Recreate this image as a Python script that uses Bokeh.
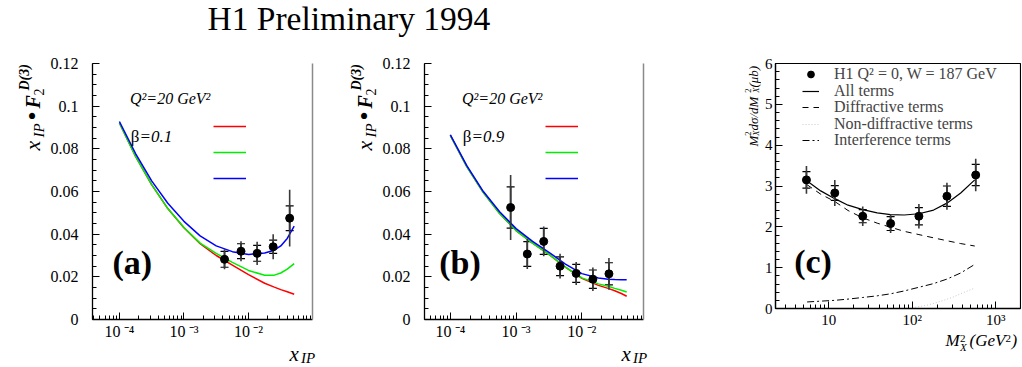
import math
from bokeh.plotting import figure
from bokeh.models import (Label, Legend, LegendItem, Whisker, TeeHead, LinearAxis, GridBox,
                          Range1d, CustomJSTickFormatter, LogTicker, SingleIntervalTicker,
                          ColumnDataSource)
from bokeh.core.properties import value
from bokeh.embed import file_html
from bokeh.resources import INLINE

SERIF = "Liberation Serif"

# ---------------- data: panel (a), beta = 0.1 ----------------
a_curve_x = [1.0e-4, 1.78e-4, 3.16e-4, 5.62e-4, 1.0e-3, 1.78e-3, 3.16e-3, 5.62e-3,
             1.0e-2, 1.78e-2, 2.51e-2, 3.16e-2, 3.98e-2, 5.1e-2]
a_red = [0.0921, 0.0765, 0.0632, 0.0520, 0.0430, 0.0355, 0.0300, 0.0255,
         0.0210, 0.0170, 0.0152, 0.0140, 0.0130, 0.0118]
a_green = [0.0921, 0.0765, 0.0632, 0.0520, 0.0431, 0.0358, 0.0310, 0.0268,
           0.0230, 0.0207, 0.0208, 0.0218, 0.0236, 0.0262]
a_blue = [0.0928, 0.0778, 0.0650, 0.0545, 0.0460, 0.0392, 0.0345, 0.0318,
          0.0305, 0.0312, 0.0325, 0.0345, 0.0380, 0.0438]
a_x = [0.00425, 0.00765, 0.0136, 0.0241, 0.0434]
a_y = [0.0282, 0.0320, 0.0310, 0.0341, 0.0475]
a_stat = [0.0037, 0.0035, 0.0037, 0.0031, 0.0058]
a_tot = [0.0047, 0.0047, 0.0054, 0.0059, 0.0133]

# ---------------- data: panel (b), beta = 0.9 ----------------
b_curve_x = [1.0e-4, 1.78e-4, 3.16e-4, 5.62e-4, 1.0e-3, 1.78e-3, 3.16e-3, 5.62e-3,
             1.0e-2, 1.78e-2, 2.51e-2, 3.16e-2, 3.98e-2, 4.8e-2]
b_red = [0.0863, 0.0717, 0.0596, 0.0497, 0.0417, 0.0358, 0.0305, 0.0245,
         0.0193, 0.0160, 0.0146, 0.0135, 0.0122, 0.0109]
b_green = [0.0863, 0.0717, 0.0596, 0.0497, 0.0417, 0.0358, 0.0305, 0.0246,
           0.0195, 0.0167, 0.0156, 0.0146, 0.0137, 0.0129]
b_blue = [0.0866, 0.0721, 0.0601, 0.0505, 0.0426, 0.0366, 0.0315, 0.0260,
          0.0215, 0.0195, 0.0189, 0.0187, 0.0186, 0.0186]
b_x = [8.26e-4, 1.48e-3, 2.63e-3, 4.66e-3, 8.2e-3, 1.47e-2, 2.58e-2]
b_y = [0.0525, 0.0307, 0.0366, 0.0250, 0.0216, 0.0189, 0.0214]
b_stat = [0.0097, 0.0058, 0.0061, 0.0044, 0.0042, 0.0043, 0.0052]
b_tot = [0.0152, 0.0070, 0.0070, 0.0058, 0.0054, 0.0055, 0.0074]

# ---------------- data: panel (c), photoproduction ----------------
c_x = [5.4, 11.8, 25.5, 55.0, 120.0, 260.0, 575.0]
c_y = [3.15, 2.83, 2.26, 2.08, 2.26, 2.75, 3.27]
c_stat = [0.20, 0.18, 0.16, 0.17, 0.21, 0.25, 0.26]
c_tot = [0.34, 0.32, 0.24, 0.23, 0.30, 0.33, 0.40]
c_curve_x = [5.5, 8.0, 11.8, 17.0, 25.5, 38.0, 55.0, 80.0, 120.0, 180.0, 260.0, 380.0, 560.0]
c_all = [3.12, 2.88, 2.69, 2.53, 2.42, 2.34, 2.30, 2.29, 2.32, 2.41, 2.58, 2.83, 3.15]
c_diff = [3.03, 2.80, 2.62, 2.40, 2.22, 2.09, 1.99, 1.89, 1.81, 1.73, 1.66, 1.59, 1.53]
c_intf = [0.16, 0.18, 0.20, 0.23, 0.27, 0.31, 0.36, 0.43, 0.52, 0.61, 0.72, 0.87, 1.08]
c_nd_x = [100.0, 150.0, 200.0, 300.0, 400.0, 560.0]
c_nd = [0.02, 0.08, 0.15, 0.27, 0.38, 0.50]

c_legend_labels = ["H1 Q\u00b2 = 0, W = 187 GeV", "All terms", "Diffractive terms",
                   "Non-diffractive terms", "Interference terms"]

TITLE = "H1 Preliminary 1994"

LOG_FMT = """
const e = Math.round(Math.log10(tick));
if (Math.abs(tick / Math.pow(10, e) - 1) > 1e-6) { return ''; }
if (e === 1 && short) { return '10'; }
const sup = {'-': '\u207b', '0': '\u2070', '1': '\u00b9', '2': '\u00b2', '3': '\u00b3',
             '4': '\u2074', '5': '\u2075', '6': '\u2076', '7': '\u2077', '8': '\u2078', '9': '\u2079'};
return '10' + gap + String(e).split('').map(c => sup[c]).join('');
"""

MID = 0.3375  # distance (in em) from alphabetic baseline to the middle of the font box


def txt(p, text, x, y, size, style="normal", angle=0.0, color="black", font=SERIF):
    """(x, y) is the start of the alphabetic baseline, in screen px from the frame's
    bottom-left corner; the label is anchored on the middle of its font box."""
    if angle == 0.0:
        y = y + MID * size
    else:
        x = x - MID * size
    p.add_layout(Label(x=x, y=y, x_units="screen", y_units="screen", text=text,
                       text_font=font, text_font_size=f"{size}px", text_font_style=style,
                       text_color=color, angle=angle, text_align="left",
                       text_baseline="middle"))


def blank(width, height, top=0, bottom=0, left=0, right=0):
    f = figure(width=width, height=height, x_range=Range1d(0, 1), y_range=Range1d(0, 1),
               min_border_left=left, min_border_right=right, min_border_top=top,
               min_border_bottom=bottom, x_axis_location=None, y_axis_location=None,
               toolbar_location=None, output_backend="svg")
    f.outline_line_color = None
    f.grid.visible = False
    return f


def style_axes(p, size, ystand, xstand):
    for ax in p.axis:
        ax.axis_line_color = "black"
        ax.axis_line_width = 1.3
        ax.major_tick_line_color = "black"
        ax.minor_tick_line_color = "black"
        ax.major_tick_in = 7
        ax.major_tick_out = 0
        ax.minor_tick_in = 4
        ax.minor_tick_out = 0
        ax.major_label_text_font = SERIF
        ax.major_label_text_font_size = f"{size}px"
        ax.major_label_text_color = "black"
    p.yaxis.major_label_standoff = ystand
    p.xaxis.major_label_standoff = xstand
    p.grid.visible = False


def data_points(p, xs, ys, stat, tot):
    src = ColumnDataSource(dict(x=xs, y=ys,
                                tlo=[v - e for v, e in zip(ys, tot)],
                                thi=[v + e for v, e in zip(ys, tot)],
                                slo=[v - e for v, e in zip(ys, stat)],
                                shi=[v + e for v, e in zip(ys, stat)]))
    p.segment(x0="x", y0="tlo", x1="x", y1="thi", source=src, line_color="#3a3a3a", line_width=1.6)
    p.add_layout(Whisker(base="x", lower="slo", upper="shi", source=src, dimension="height",
                         line_color="black", line_width=1.6,
                         upper_head=TeeHead(size=8, line_color="black", line_width=1.2),
                         lower_head=TeeHead(size=8, line_color="black", line_width=1.2)))
    return p.scatter("x", "y", source=src, size=8, color="black")


def model_panel(xr, cx, red, green, blue, xs, ys, stat, tot, beta, tag, lm, rm, tag_dx):
    p = figure(width=lm + 221 + rm, height=292, x_axis_type="log",
               x_range=Range1d(*xr), y_range=Range1d(0, 0.12),
               min_border_left=lm, min_border_right=rm, min_border_top=13, min_border_bottom=23,
               toolbar_location=None, output_backend="svg")
    p.outline_line_color = None
    style_axes(p, 16, 14, 3)
    p.xaxis.ticker = LogTicker(num_minor_ticks=10)
    p.xaxis.formatter = CustomJSTickFormatter(code=LOG_FMT, args=dict(short=False, gap="\u2009"))
    p.yaxis.ticker = SingleIntervalTicker(interval=0.02, num_minor_ticks=4)
    p.yaxis.formatter = CustomJSTickFormatter(code="return parseFloat(tick.toFixed(3)).toString();")
    right = LinearAxis(axis_line_color="#8a8a8a", axis_line_width=1.5,
                       major_tick_line_color=None, minor_tick_line_color=None,
                       major_label_text_color=None)
    p.add_layout(right, "right")

    r_r = p.line(cx, red, line_color="#ff0000", line_width=1.5)
    r_g = p.line(cx, green, line_color="#00ee00", line_width=1.5)
    r_b = p.line(cx, blue, line_color="#0000ff", line_width=1.5)
    data_points(p, xs, ys, stat, tot)

    leg = Legend(items=[LegendItem(label=value(" "), renderers=[r]) for r in (r_r, r_g, r_b)],
                 location=(121.3, 131), glyph_width=33, glyph_height=20, label_height=20,
                 label_width=0, label_standoff=0, spacing=6, padding=0, margin=0,
                 border_line_color=None, background_fill_alpha=0, label_text_font_size="2px")
    p.add_layout(leg)

    txt(p, "Q\u00b2=20 GeV\u00b2", 37.5, 216, 16, "italic")
    txt(p, "\u03b2", 38.3, 177.5, 17)
    txt(p, "=" + beta, 47, 177.5, 17, "italic")
    txt(p, tag, tag_dx, 45.3, 34, "bold")
    return p


def y_title_ab(p, x0):
    A = math.pi / 2
    txt(p, "x", x0, 169, 22, "italic", A)
    txt(p, "IP", x0 + 4, 182, 15, "italic", A)
    txt(p, "\u2022", x0 + 1.5, 199, 26, "normal", A)
    txt(p, "F", x0, 211, 20, "bold italic", A)
    txt(p, "2", x0 + 4, 224, 14, "normal", A)
    txt(p, "D(3)", x0 - 11, 229, 14, "bold italic", A)


# ---------------- panels (a) and (b) with their axis titles ----------------
ya = blank(47, 292, 13, 23)
y_title_ab(ya, 39.5)
fa = model_panel((3.83e-5, 0.098), a_curve_x, a_red, a_green, a_blue,
                 a_x, a_y, a_stat, a_tot, "0.1", "(a)", 44, 36, 20)
yb = blank(31, 292, 13, 23)
y_title_ab(yb, 23.5)
fb = model_panel((4.05e-5, 0.0865), b_curve_x, b_red, b_green, b_blue,
                 b_x, b_y, b_stat, b_tot, "0.9", "(b)", 43, 37, 14.7)

xab = blank(761, 24)
for x0 in (289, 621):
    txt(xab, "x", x0, 5, 21, "italic")
    txt(xab, "IP", x0 + 11.5, 3.5, 15, "italic")

# ---------------- panel (c) ----------------
fc = figure(width=260, height=280, x_axis_type="log",
            x_range=Range1d(2.3, 1977), y_range=Range1d(0, 6),
            min_border_left=12, min_border_right=1, min_border_top=13, min_border_bottom=21,
            toolbar_location=None, output_backend="svg")
fc.outline_line_color = "black"
fc.outline_line_width = 1.2
style_axes(fc, 15, 3, 3)
fc.xaxis.ticker = LogTicker(num_minor_ticks=10)
fc.xaxis.formatter = CustomJSTickFormatter(code=LOG_FMT, args=dict(short=True, gap=""))
fc.yaxis.ticker = SingleIntervalTicker(interval=1, num_minor_ticks=5)

r_nd = fc.line(c_nd_x, c_nd, line_color="#c8c8c8", line_width=1, line_dash="1 2")
r_intf = fc.line(c_curve_x, c_intf, line_color="black", line_width=1, line_dash="7 3 2 3")
r_diff = fc.line(c_curve_x, c_diff, line_color="black", line_width=1, line_dash="6 5")
r_all = fc.line(c_curve_x, c_all, line_color="black", line_width=1.2)
r_pts = data_points(fc, c_x, c_y, c_stat, c_tot)

centers = [75, 91.5, 108, 124.5, 141]
for rend, lab, cy in zip([r_pts, r_all, r_diff, r_nd, r_intf], c_legend_labels, centers):
    fc.add_layout(Legend(items=[LegendItem(label=value(lab), renderers=[rend])],
                         location=(27, 309 - (cy + 10)), glyph_width=17, glyph_height=20,
                         label_height=20, label_standoff=15, padding=0, margin=0,
                         border_line_color=None, background_fill_alpha=0,
                         label_text_font=SERIF, label_text_font_size="16px"))
txt(fc, "(c)", 18.7, 35.3, 34, "bold")

yc = blank(81, 280, 13, 21)
A = math.pi / 2
txt(yc, "M", 77, 162, 13, "italic", A)
txt(yc, "2", 70, 172.8, 8.5, "normal", A)
txt(yc, "X", 78.8, 172.8, 8.5, "italic", A)
txt(yc, " d\u03c3/dM", 77, 178, 13, "italic", A)
txt(yc, "2", 70, 215.8, 8.5, "normal", A)
txt(yc, "X", 78.8, 215.8, 8.5, "italic", A)
txt(yc, " (\u03bcb)", 77, 221, 13, "italic", A)

xc = blank(260, 36, left=12, right=1)
txt(xc, "M", 170, 20, 17, "italic")
txt(xc, "2", 184.5, 24.5, 11)
txt(xc, "X", 184.5, 16, 11, "italic")
txt(xc, "(GeV", 194, 20, 17, "italic")
txt(xc, "2", 230, 24.5, 11)
txt(xc, ")", 236, 20, 17, "italic")

# ---------------- title strip ----------------
ft = blank(1021, 50, right=1)
txt(ft, TITLE, 207, 20.5, 33.5)

grid = GridBox(children=[(ft, 0, 0, 1, 6),
                         (ya, 1, 0, 2, 1), (fa, 1, 1, 2, 1), (yb, 1, 2, 2, 1), (fb, 1, 3, 2, 1),
                         (yc, 1, 4, 1, 1), (fc, 1, 5, 1, 1),
                         (xc, 2, 5, 2, 1), (xab, 3, 0, 1, 5)],
               rows=["50px", "280px", "12px", "24px"],
               cols=["47px", "301px", "31px", "301px", "81px", "260px"],
               spacing=0)
open("out.html", "w").write(file_html(grid, INLINE))
